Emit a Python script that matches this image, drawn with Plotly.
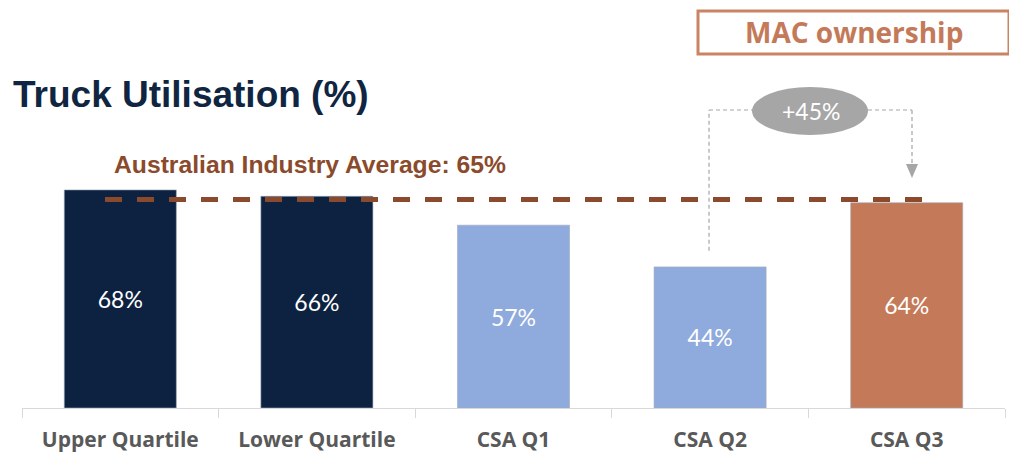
import plotly.graph_objects as go

categories = ["Upper Quartile", "Lower Quartile", "CSA Q1", "CSA Q2", "CSA Q3"]
utilisation = [68, 66, 57, 44, 64]
bar_labels = ["68%", "66%", "57%", "44%", "64%"]
bar_colors = ["#0D2240", "#0D2240", "#8FAADC", "#8FAADC", "#C47A58"]
industry_avg = 65
avg_label = "Australian Industry Average: 65%"
uplift_label = "+45%"

# page body has an 8px margin, so the figure starts at (8, 8) in the window
O = 8
W, H = 1017 - O, 459 - O
L, R, T, B = 22 - O, 12, 60 - O, 51
plot_w = W - L - R
plot_h = H - T - B
y_max = 108.5

def px_x(px):
    # window pixel x -> category coordinate
    return (px - O - L) / plot_w * len(categories) - 0.5

def px_y(py):
    return (H - B - (py - O)) / plot_h * y_max

def paper_x(px):
    return (px - O - L) / plot_w

def paper_y(py):
    return (H - B - (py - O)) / plot_h

fig = go.Figure()
fig.add_trace(go.Bar(
    x=categories, y=utilisation, width=0.57,
    marker=dict(color=bar_colors, line=dict(color="rgba(160,170,185,0.6)", width=1)),
    text=bar_labels, textposition="inside", insidetextanchor="middle",
    textfont=dict(family="Lato, Open Sans, sans-serif", size=23, color="white"),
    hoverinfo="skip", showlegend=False,
))

shapes = []
# industry average dashed line
shapes.append(dict(type="line", xref="x", yref="y",
                   x0=px_x(105), x1=px_x(935), y0=industry_avg, y1=industry_avg,
                   line=dict(color="#8B4A2B", width=5, dash="17px,15px")))
# connector from CSA Q2 to CSA Q3
cx0 = px_x(709)
cx1 = px_x(912)
ytop = px_y(110)
conn = dict(color="#A6A6A6", width=1.2, dash="4px,3px")
shapes.append(dict(type="line", xref="x", yref="y", x0=cx0, x1=cx0,
                   y0=utilisation[3] + 5, y1=ytop, line=conn))
shapes.append(dict(type="line", xref="x", yref="y", x0=cx0, x1=px_x(752),
                   y0=ytop, y1=ytop, line=conn))
shapes.append(dict(type="line", xref="x", yref="y", x0=px_x(868), x1=cx1,
                   y0=ytop, y1=ytop, line=conn))
shapes.append(dict(type="line", xref="x", yref="y", x0=cx1, x1=cx1,
                   y0=ytop, y1=px_y(165), line=conn))
# arrow head
tip_y = px_y(178)
base_y = px_y(164)
hw = 6 / plot_w * len(categories)
shapes.append(dict(type="path", xref="x", yref="y",
                   path=f"M {cx1-hw},{base_y} L {cx1+hw},{base_y} L {cx1},{tip_y} Z",
                   fillcolor="#A6A6A6", line=dict(width=0)))
# ellipse bubble
shapes.append(dict(type="circle", xref="x", yref="y",
                   x0=px_x(752), x1=px_x(868), y0=px_y(135), y1=px_y(87),
                   fillcolor="#A6A6A6", line=dict(width=0)))
# MAC ownership box
shapes.append(dict(type="rect", xref="paper", yref="paper",
                   x0=paper_x(698), x1=paper_x(1009), y0=paper_y(54), y1=paper_y(11),
                   line=dict(color="#C98463", width=3), fillcolor="rgba(0,0,0,0)"))

annotations = [
    dict(text="Truck Utilisation (%)", xref="paper", yref="paper",
         x=paper_x(11), y=paper_y(95), xanchor="left", yanchor="middle", showarrow=False,
         font=dict(family="Liberation Sans, Arial, sans-serif", size=37, color="#0F2541", weight="bold")),
    dict(text=avg_label, xref="paper", yref="paper",
         x=paper_x(112), y=paper_y(164), xanchor="left", yanchor="middle", showarrow=False,
         font=dict(family="Liberation Sans, Arial, sans-serif", size=24.7, color="#8B4A2B", weight="bold")),
    dict(text=uplift_label, xref="x", yref="y",
         x=px_x(811), y=px_y(111), xanchor="center", yanchor="middle", showarrow=False,
         font=dict(family="Lato, Open Sans, sans-serif", size=23, color="white")),
    dict(text="MAC ownership", xref="paper", yref="paper",
         x=paper_x(854), y=paper_y(32), xanchor="center", yanchor="middle", showarrow=False,
         font=dict(family="Open Sans, Lato, sans-serif", size=28, color="#C47A58", weight="bold")),
]

fig.update_layout(
    width=W, height=H,
    margin=dict(l=L, r=R, t=T, b=B, pad=0),
    paper_bgcolor="white", plot_bgcolor="white",
    shapes=shapes, annotations=annotations,
    xaxis=dict(
        type="category", categoryorder="array", categoryarray=categories,
        range=[-0.5, len(categories) - 0.5], automargin=False,
        showline=True, linecolor="#D9D9D9", linewidth=1,
        ticks="outside", tickson="boundaries", ticklen=9, tickcolor="#D9D9D9",
        showgrid=False, zeroline=False,
        tickfont=dict(family="Open Sans, Lato, sans-serif",
                      size=21, color="#595959", weight="bold"),
        ticklabelstandoff=13,
    ),
    yaxis=dict(range=[0, y_max], visible=False, showgrid=False, zeroline=False,
               automargin=False),
)

fig.write_html("out.html")
